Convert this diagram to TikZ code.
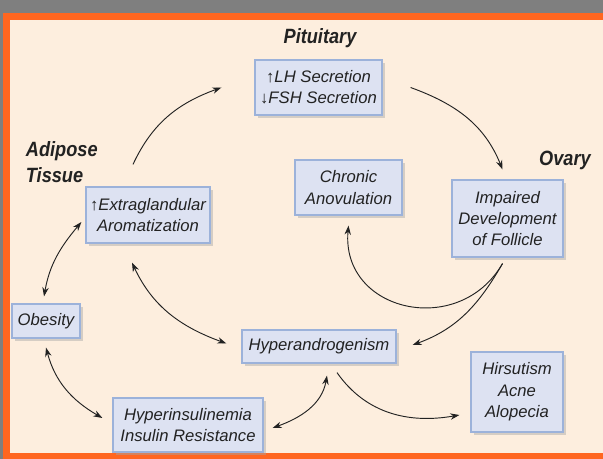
\documentclass[tikz,border=0pt]{standalone}
\usepackage{fontspec}
\setmainfont{Liberation Sans}
\newfontfamily\headfont[FakeStretch=0.88]{Liberation Sans}
\usetikzlibrary{arrows.meta,shadows}
\definecolor{frame}{HTML}{7F7F7F}
\definecolor{rim}{HTML}{FF6620}
\definecolor{cream}{HTML}{FDEEDE}
\definecolor{cellfill}{HTML}{DDE2F2}
\definecolor{edge}{HTML}{9CB2DA}
\definecolor{ink}{HTML}{222222}
\newlength{\unitpx}
\setlength{\unitpx}{0.75pt}
\tikzset{
  every picture/.style={line width=0.7pt, x=0.75pt, y=0.75pt},
  cell/.style={draw=edge, fill=cellfill, line width=0.9pt, align=center, inner sep=2pt,
    text=ink, font=\itshape\fontsize{12.5}{16}\selectfont,
    drop shadow={shadow xshift=2pt, shadow yshift=-2pt, fill=black!35, opacity=0.45}},
  region/.style={font=\headfont\bfseries\itshape\fontsize{15.5}{19.5}\selectfont, text=ink},
  link/.style={-{Stealth[length=2.4mm, width=1.7mm]}, draw=ink},
  both/.style={{Stealth[length=2.4mm, width=1.7mm]}-{Stealth[length=2.4mm, width=1.7mm]}, draw=ink},
}
\begin{document}
\begin{tikzpicture}
\useasboundingbox (0,0) rectangle (603,-459);
% frame
\fill[frame] (0,0) rectangle (603,-459);
\fill[rim] (3,-13) rectangle (603,-459);
\fill[cream] (10,-20) rectangle (603,-453);

% region labels
\node[region] (pitlabel) at (320,-38) {Pituitary};
\node[region, align=left, anchor=west] (adiplabel) at (21,-162) {Adipose\\Tissue};
\node[region] (ovlabel) at (565,-160) {Ovary};

% boxes
\node[cell, minimum width=127\unitpx, minimum height=55\unitpx] (lh) at (318.5,-87.5) {↑LH Secretion\\↓FSH Secretion};
\node[cell, minimum width=124\unitpx, minimum height=56\unitpx] (extra) at (148,-215) {↑Extraglandular\\Aromatization};
\node[cell, minimum width=107\unitpx, minimum height=55\unitpx] (chronic) at (348.5,-187.5) {Chronic\\Anovulation};
\node[cell, minimum width=111\unitpx, minimum height=77\unitpx] (follicle) at (507.5,-218.5) {Impaired\\Development\\of Follicle};
\node[cell, minimum width=68\unitpx, minimum height=34\unitpx] (obesity) at (46,-321) {Obesity};
\node[cell, minimum width=150\unitpx, minimum height=54\unitpx] (insulin) at (188,-425) {Hyperinsulinemia\\Insulin Resistance};
\node[cell, minimum width=154\unitpx, minimum height=33\unitpx] (andro) at (319,-346.5) {Hyperandrogenism};
\node[cell, minimum width=92\unitpx, minimum height=80\unitpx] (hirs) at (517,-392) {Hirsutism\\Acne\\Alopecia};

% cycle
\draw[link] ([shift={(-15,22)}]extra.north) to[out=65, in=200] ([shift={(-33,0)}]lh.west);
\draw[link] ([shift={(28,0)}]lh.east) to[out=-20, in=112] ([shift={(-5,10)}]follicle.north);
\draw[link] ([shift={(-5,-6)}]follicle.south) to[out=240, in=-95, looseness=1.4] ([shift={(0,-10)}]chronic.south);
\draw[link] ([shift={(-5,-6)}]follicle.south) to[out=240, in=20] ([shift={(16,1.5)}]andro.east);
\draw[both] ([shift={(-16,-19)}]extra.south) to[out=-65, in=160] ([shift={(-15,3)}]andro.west);
\draw[both] ([shift={(-2,7)}]obesity.north) to[out=80, in=230] ([shift={(-4,-7)}]extra.west);
\draw[both] ([shift={(0,-9)}]obesity.south) to[out=-75, in=150] ([shift={(-10,7)}]insulin.west);
\draw[both] ([shift={(9,-3)}]insulin.east) to[out=20, in=-100] ([shift={(8,-12)}]andro.south);
\draw[link] ([shift={(18,-9)}]andro.south) to[out=-55, in=190] ([shift={(-11,-23)}]hirs.west);
\end{tikzpicture}
\end{document}
